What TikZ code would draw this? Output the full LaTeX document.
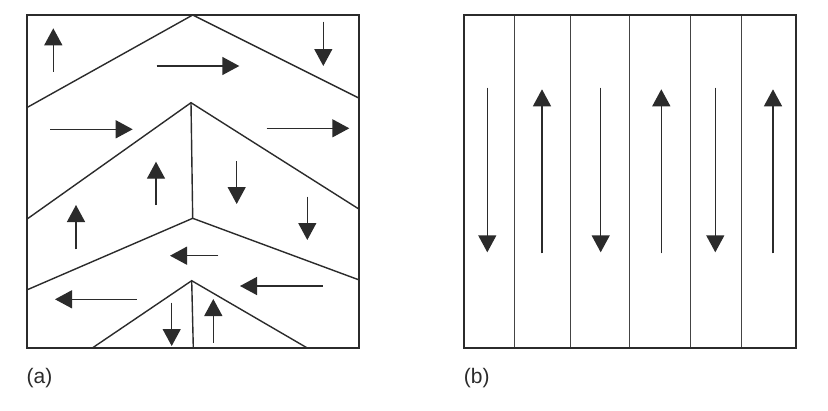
\documentclass[tikz,border=0pt]{standalone}
\usepackage{fontspec}
\setmainfont{Liberation Sans}
\usetikzlibrary{arrows.meta}
\definecolor{ink}{HTML}{2B2B2B}
\definecolor{grayline}{HTML}{444444}
\tikzset{
  boundary/.style={draw=ink, line width=1.4pt},
  frame/.style={draw=ink, line width=1.8pt},
  dirarrow/.style={draw=ink, line width=1.4pt, -{Triangle[length=17pt,width=18pt]}},
  vline/.style={draw=grayline, line width=1.5pt},
  caption/.style={anchor=base west, inner sep=0pt, text=ink, font=\fontsize{21}{24}\selectfont}
}
\begin{document}
\begin{tikzpicture}[x=1pt,y=-1pt]
\useasboundingbox (0,0) rectangle (828,410);
\fill[white] (0,0) rectangle (828,410);
% ---------- (a) ----------
\draw[boundary] (26.7,107.7) -- (192.7,15) -- (359.3,98.3);
\draw[boundary] (26.7,219.3) -- (191,102.7) -- (359.3,209.3);
\draw[boundary] (191,102.7) -- (192.7,218.3);
\draw[boundary] (26.7,290) -- (192.7,218.3) -- (359.3,280);
\draw[boundary] (92.3,348) -- (191.7,280.7) -- (307.3,348);
\draw[boundary] (191.7,280.7) -- (193.3,348);
\draw[frame] (26.7,15) rectangle (359.3,348);
% arrows
\draw[dirarrow] (53.3,71.7) -- (53.3,28.3);
\draw[dirarrow] (156.7,66) -- (239.3,66);
\draw[dirarrow] (323.3,21.7) -- (323.3,66);
\draw[dirarrow] (50,129.3) -- (132.7,129.3);
\draw[dirarrow] (266.7,128.3) -- (349.3,128.3);
\draw[dirarrow] (156,205) -- (156,161.7);
\draw[dirarrow] (236.7,161) -- (236.7,204);
\draw[dirarrow] (76,249.3) -- (76,205);
\draw[dirarrow] (307.3,196.7) -- (307.3,240);
\draw[dirarrow] (218.3,255.7) -- (170,255.7);
\draw[dirarrow] (322.7,286) -- (240,286);
\draw[dirarrow] (136.7,299.3) -- (55,299.3);
\draw[dirarrow] (171.7,302.7) -- (171.7,346);
\draw[dirarrow] (213.3,342.7) -- (213.3,299);
\node[caption] (labela) at (26.5,383.6) {(a)};
% ---------- (b) ----------
\foreach \x in {514.7,570.7,629.7,690.3,741.3} {
  \draw[vline] (\x,15) -- (\x,348);
}
\draw[frame] (463.7,15) rectangle (796.3,348);
\foreach \x in {487.3,600.7,715.3} {
  \draw[dirarrow] (\x,87.7) -- (\x,252.3);
}
\foreach \x in {542,661.3,773} {
  \draw[dirarrow] (\x,253.3) -- (\x,89.3);
}
\node[caption] (labelb) at (463.7,383.6) {(b)};
\end{tikzpicture}
\end{document}
